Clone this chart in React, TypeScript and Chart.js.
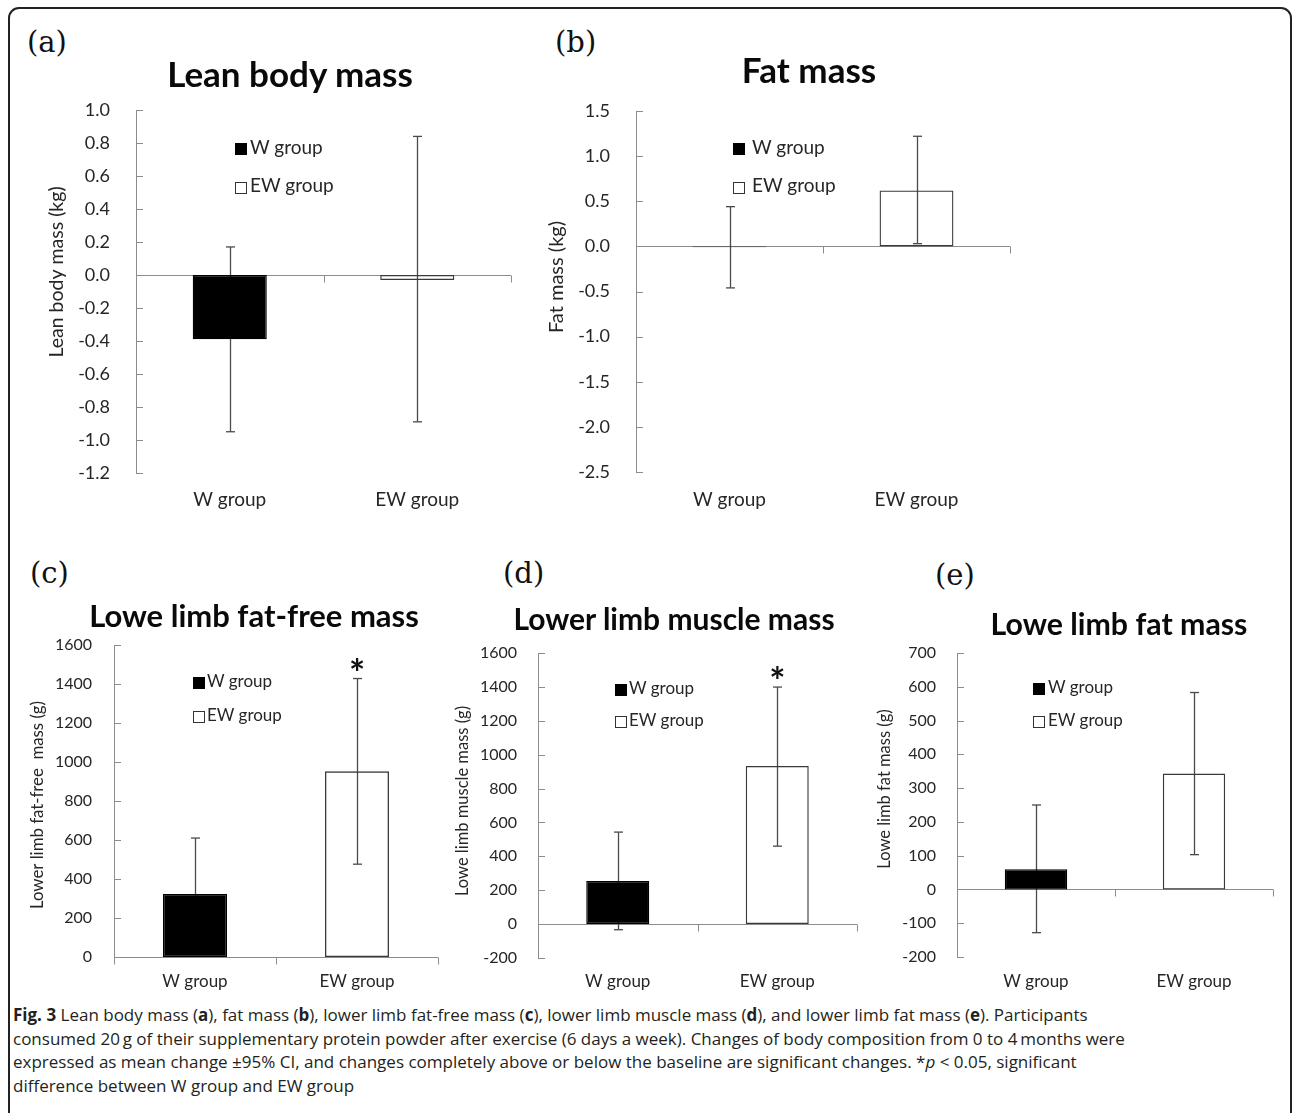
import React, { useEffect, useRef } from 'react';
import { Chart, registerables } from 'chart.js';

Chart.register(...registerables);

// ---------------- data ----------------
const groups = ['W group', 'EW group'];

// (a) Lean body mass (kg)
const leanMean = [-0.39, -0.03];
const leanUpper = [0.17, 0.84];
const leanLower = [-0.95, -0.89];
const leanTicks = [-1.2, -1.0, -0.8, -0.6, -0.4, -0.2, 0.0, 0.2, 0.4, 0.6, 0.8, 1.0];
const leanMarks = ['', ''];

// (b) Fat mass (kg)
const fatMean = [-0.01, 0.62];
const fatUpper = [0.44, 1.22];
const fatLower = [-0.46, 0.03];
const fatTicks = [-2.5, -2.0, -1.5, -1.0, -0.5, 0.0, 0.5, 1.0, 1.5];
const fatMarks = ['', ''];

// (c) Lower limb fat-free mass (g)
const ffmMean = [323, 952];
const ffmUpper = [610, 1428];
const ffmLower = [36, 476];
const ffmTicks = [0, 200, 400, 600, 800, 1000, 1200, 1400, 1600];
const ffmMarks = ['', '*'];

// (d) Lower limb muscle mass (g)
const muscleMean = [254, 933];
const muscleUpper = [543, 1399];
const muscleLower = [-33, 460];
const muscleTicks = [-200, 0, 200, 400, 600, 800, 1000, 1200, 1400, 1600];
const muscleMarks = ['', '*'];

// (e) Lower limb fat mass (g)
const limbFatMean = [60, 343];
const limbFatUpper = [250, 583];
const limbFatLower = [-128, 103];
const limbFatTicks = [-200, -100, 0, 100, 200, 300, 400, 500, 600, 700];
const limbFatMarks = ['', ''];

// ---------------- styles ----------------
const AXIS = '#8c8c8c';
const ERR = '#4a4a4a';
const TEXT = '#262626';
const FONT = 'Lato';

type Spec = {
  letter: string; letterX: number; letterBase: number;
  title: string; titleX: number; titleBase: number; titleSize: number;
  yTitle: string; yTitleX: number; yTitleY: number; yTitleSize: number;
  mean: number[]; upper: number[]; lower: number[]; marks: string[];
  ticks: number[]; decimals: number;
  plot: { l: number; r: number; t: number; b: number };
  tickSize: number; tickGap: number;
  labelSize: number; labelCenter: number;
  legend: { sqX: number; sq1: number; sq2: number; textX: number; base1: number; base2: number; size: number };
};

const panels: Spec[] = [
  {
    letter: '(a)', letterX: 27, letterBase: 53,
    title: 'Lean body mass', titleX: 290, titleBase: 87, titleSize: 35,
    yTitle: 'Lean body mass (kg)', yTitleX: 57, yTitleY: 272, yTitleSize: 19.5,
    mean: leanMean, upper: leanUpper, lower: leanLower, marks: leanMarks,
    ticks: leanTicks, decimals: 1,
    plot: { l: 136, r: 511, t: 110, b: 473 },
    tickSize: 18, tickGap: 26, labelSize: 19, labelCenter: 500,
    legend: { sqX: 235, sq1: 143, sq2: 182, textX: 250, base1: 155, base2: 193, size: 19 },
  },
  {
    letter: '(b)', letterX: 555, letterBase: 53,
    title: 'Fat mass', titleX: 809, titleBase: 83, titleSize: 35,
    yTitle: 'Fat mass (kg)', yTitleX: 557, yTitleY: 277, yTitleSize: 20,
    mean: fatMean, upper: fatUpper, lower: fatLower, marks: fatMarks,
    ticks: fatTicks, decimals: 1,
    plot: { l: 636, r: 1010, t: 111, b: 472 },
    tickSize: 18, tickGap: 26, labelSize: 19, labelCenter: 500,
    legend: { sqX: 733, sq1: 143, sq2: 182, textX: 752, base1: 155, base2: 193, size: 19 },
  },
  {
    letter: '(c)', letterX: 30, letterBase: 584,
    title: 'Lowe limb fat-free mass', titleX: 254, titleBase: 628, titleSize: 31,
    yTitle: 'Lower limb fat-free  mass (g)', yTitleX: 38, yTitleY: 805, yTitleSize: 16.8,
    mean: ffmMean, upper: ffmUpper, lower: ffmLower, marks: ffmMarks,
    ticks: ffmTicks, decimals: 0,
    plot: { l: 114, r: 438, t: 645, b: 957 },
    tickSize: 16, tickGap: 22, labelSize: 17, labelCenter: 982,
    legend: { sqX: 193, sq1: 677, sq2: 711, textX: 207, base1: 688, base2: 722, size: 17 },
  },
  {
    letter: '(d)', letterX: 503, letterBase: 584,
    title: 'Lower limb muscle mass', titleX: 674, titleBase: 630, titleSize: 30,
    yTitle: 'Lowe limb muscle mass (g)', yTitleX: 463, yTitleY: 801, yTitleSize: 16.5,
    mean: muscleMean, upper: muscleUpper, lower: muscleLower, marks: muscleMarks,
    ticks: muscleTicks, decimals: 0,
    plot: { l: 538, r: 857, t: 653, b: 958 },
    tickSize: 16, tickGap: 21, labelSize: 17, labelCenter: 982,
    legend: { sqX: 615, sq1: 684, sq2: 716, textX: 629, base1: 695, base2: 727, size: 17 },
  },
  {
    letter: '(e)', letterX: 935, letterBase: 586,
    title: 'Lowe limb fat mass', titleX: 1119, titleBase: 635, titleSize: 30.3,
    yTitle: 'Lowe limb fat mass (g)', yTitleX: 885, yTitleY: 789, yTitleSize: 16.5,
    mean: limbFatMean, upper: limbFatUpper, lower: limbFatLower, marks: limbFatMarks,
    ticks: limbFatTicks, decimals: 0,
    plot: { l: 957, r: 1273, t: 653, b: 957 },
    tickSize: 16, tickGap: 21, labelSize: 17, labelCenter: 982,
    legend: { sqX: 1033, sq1: 683, sq2: 716, textX: 1048, base1: 694, base2: 727, size: 17 },
  },
];

// ---------------- helpers ----------------
function Txt(props: {
  x: number; base: number; size: number; children: React.ReactNode;
  family?: string; weight?: number; anchor?: 'start' | 'middle'; asc?: number; lh?: number; color?: string;
}) {
  const { x, base, size, children, family = FONT, weight = 400, anchor = 'start', asc = 0.987, lh = 1.2, color = TEXT } = props;
  return (
    <div
      style={{
        position: 'absolute', left: x, top: base - asc * size,
        transform: anchor === 'middle' ? 'translateX(-50%)' : undefined,
        fontFamily: family, fontSize: size, fontWeight: weight, lineHeight: `${lh * size}px`,
        whiteSpace: 'nowrap', color,
      }}
    >
      {children}
    </div>
  );
}

function BarPanel({ s }: { s: Spec }) {
  const ref = useRef<HTMLCanvasElement>(null);
  const Y_W = 110;
  const X_H = 45;
  const PAD_T = 40;
  const PAD_R = 10;
  const cLeft = s.plot.l - Y_W;
  const cTop = s.plot.t - PAD_T;
  const cW = s.plot.r - s.plot.l + Y_W + PAD_R;
  const cH = s.plot.b - s.plot.t + PAD_T + X_H;

  useEffect(() => {
    const canvas = ref.current!;
    let alive = true;
    const fmt = (v: number) => (Math.abs(v) < 1e-9 ? 0 : v).toFixed(s.decimals);
    const line = (ctx: CanvasRenderingContext2D, x1: number, y1: number, x2: number, y2: number) => {
      ctx.beginPath();
      ctx.moveTo(x1, y1);
      ctx.lineTo(x2, y2);
      ctx.stroke();
    };
    const labelPad = s.labelCenter - s.plot.b - 0.6 * s.labelSize;

    const deco = {
      id: 'deco',
      beforeDatasetsDraw(chart: any) {
        const { ctx, chartArea: ca, scales } = chart;
        const x = scales.x;
        const y = scales.y;
        ctx.save();
        ctx.strokeStyle = AXIS;
        ctx.lineWidth = 1;
        // y tick marks (pointing into the plot)
        for (const v of s.ticks) {
          const py = Math.round(y.getPixelForValue(v)) + 0.5;
          line(ctx, ca.left, py, ca.left + 7, py);
        }
        // baseline at zero
        const y0 = Math.round(y.getPixelForValue(0)) + 0.5;
        line(ctx, ca.left, y0, ca.right, y0);
        // category boundary ticks
        for (let i = 0; i <= groups.length; i++) {
          const px = Math.round(x.getPixelForValue(i - 0.5)) + 0.5;
          line(ctx, px, y0, px, y0 + 7);
        }
        // error bars (behind bars)
        ctx.strokeStyle = ERR;
        ctx.lineWidth = 1.3;
        const meta = chart.getDatasetMeta(0);
        meta.data.forEach((bar: any, i: number) => {
          const bx = Math.round(bar.x) + 0.5;
          const yu = y.getPixelForValue(s.upper[i]);
          const yl = y.getPixelForValue(s.lower[i]);
          line(ctx, bx, yu, bx, yl);
          line(ctx, bx - 4.5, yu, bx + 4.5, yu);
          line(ctx, bx - 4.5, yl, bx + 4.5, yl);
        });
        ctx.restore();
      },
      afterDatasetsDraw(chart: any) {
        const { ctx, scales } = chart;
        const y = scales.y;
        const meta = chart.getDatasetMeta(0);
        ctx.save();
        ctx.fillStyle = '#111';
        ctx.textAlign = 'center';
        ctx.textBaseline = 'alphabetic';
        meta.data.forEach((bar: any, i: number) => {
          if (!s.marks[i]) return;
          ctx.font = `bold 30px ${FONT}`;
          const m0 = ctx.measureText(s.marks[i]);
          const w0 = (m0.actualBoundingBoxLeft || 0) + (m0.actualBoundingBoxRight || 0) || 9;
          const size = 30 * 14 / w0;
          ctx.font = `bold ${size}px ${FONT}`;
          const m = ctx.measureText(s.marks[i]);
          const asc = m.actualBoundingBoxAscent || size * 0.7;
          const desc = m.actualBoundingBoxDescent || -size * 0.4;
          const yu = y.getPixelForValue(s.upper[i]);
          const center = yu - 15;
          const baseline = center - (desc - asc) / 2;
          ctx.fillText(s.marks[i], bar.x, baseline);
        });
        ctx.restore();
      },
      afterDraw(chart: any) {
        const { ctx } = chart;
        ctx.save();
        ctx.fillStyle = TEXT;
        ctx.font = `${s.yTitleSize}px ${FONT}`;
        ctx.textAlign = 'center';
        ctx.textBaseline = 'middle';
        ctx.translate(s.yTitleX - cLeft, s.yTitleY - cTop);
        ctx.rotate(-Math.PI / 2);
        ctx.fillText(s.yTitle, 0, 0);
        ctx.restore();
      },
    };

    const chart = new Chart(canvas, {
      type: 'bar',
      data: {
        labels: groups,
        datasets: [
          {
            label: s.title,
            data: s.mean,
            backgroundColor: ['#000000', 'rgba(255,255,255,0)'],
            borderColor: ['#000000', '#3a3a3a'],
            borderWidth: 1.3,
            borderSkipped: false,
            barPercentage: 0.395,
            categoryPercentage: 1,
          },
        ],
      },
      options: {
        responsive: false,
        animation: false,
        layout: { padding: { left: 0, right: PAD_R, top: PAD_T, bottom: 0 } },
        plugins: {
          legend: { display: false },
          title: { display: false },
          tooltip: { enabled: false },
        },
        events: [],
        scales: {
          x: {
            type: 'category',
            offset: true,
            grid: { display: false, drawTicks: false },
            border: { display: false },
            ticks: {
              font: { family: FONT, size: s.labelSize },
              color: TEXT,
              padding: labelPad,
              maxRotation: 0,
              autoSkip: false,
            },
            afterFit: (sc: any) => { sc.height = X_H; },
          },
          y: {
            type: 'linear',
            min: s.ticks[0],
            max: s.ticks[s.ticks.length - 1],
            grid: { display: false, drawTicks: false },
            border: { display: true, color: AXIS, width: 1 },
            ticks: {
              font: { family: FONT, size: s.tickSize },
              color: TEXT,
              padding: s.tickGap,
              callback: (v: any) => fmt(Number(v)),
            },
            afterBuildTicks: (sc: any) => { sc.ticks = s.ticks.map((v) => ({ value: v })); },
            title: { display: false, text: s.yTitle },
            afterFit: (sc: any) => { sc.width = Y_W; },
          },
        },
      } as any,
      plugins: [deco],
    });

    if ((document as any).fonts && (document as any).fonts.ready) {
      (document as any).fonts.ready.then(() => { if (alive) chart.update(); });
    }
    return () => { alive = false; chart.destroy(); };
  }, []);

  const L = s.legend;
  return (
    <>
      <canvas
        ref={ref}
        width={cW}
        height={cH}
        style={{ position: 'absolute', left: cLeft, top: cTop, width: cW, height: cH }}
      />
      <Txt x={s.letterX} base={s.letterBase} size={29} family="DejaVu Serif" asc={0.928} lh={1.164} color="#111">
        {s.letter}
      </Txt>
      <Txt x={s.titleX} base={s.titleBase} size={s.titleSize} weight={700} anchor="middle" color="#0a0a0a">
        {s.title}
      </Txt>
      <div style={{ position: 'absolute', left: L.sqX, top: L.sq1, width: 12, height: 12, background: '#000' }} />
      <div style={{ position: 'absolute', left: L.sqX, top: L.sq2, width: 12, height: 12, boxSizing: 'border-box', border: '1px solid #333', background: '#fff' }} />
      <Txt x={L.textX} base={L.base1} size={L.size}>{groups[0]}</Txt>
      <Txt x={L.textX} base={L.base2} size={L.size}>{groups[1]}</Txt>
    </>
  );
}

const captionLines: React.ReactNode[] = [
  <><b>Fig. 3</b> Lean body mass (<b>a</b>), fat mass (<b>b</b>), lower limb fat-free mass (<b>c</b>), lower limb muscle mass (<b>d</b>), and lower limb fat mass (<b>e</b>). Participants</>,
  <>consumed 20{'\u2009'}g of their supplementary protein powder after exercise (6 days a week). Changes of body composition from 0 to 4{'\u2009'}months were</>,
  <>expressed as mean change ±95% CI, and changes completely above or below the baseline are significant changes. *<i>p</i> &lt; 0.05, significant</>,
  <>difference between W group and EW group</>,
];

export default function App() {
  return (
    <div style={{ position: 'absolute', left: 0, top: 0, width: 1292, height: 1113, overflow: 'hidden', background: '#fff' }}>
      <div
        style={{
          position: 'absolute', left: 8, top: 7, width: 1284, height: 1120, boxSizing: 'border-box',
          border: '2px solid #222', borderRadius: 11,
        }}
      />
      {panels.map((p, i) => <BarPanel key={i} s={p} />)}
      {captionLines.map((ln, i) => (
        <Txt key={i} x={13} base={1021 + i * 23.7} size={17} family="Open Sans" asc={1.069} lh={1.362} color="#231f20">{ln}</Txt>
      ))}
    </div>
  );
}
